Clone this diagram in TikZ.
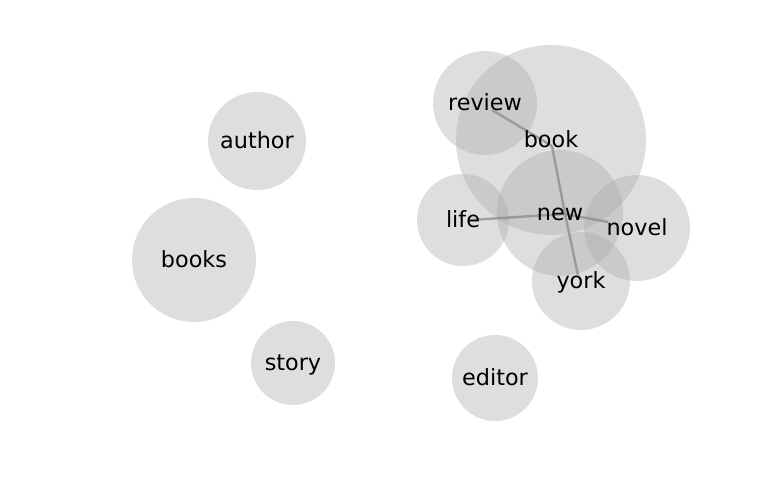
\documentclass[tikz,border=0pt]{standalone}
\usepackage{fontspec}
\setmainfont{DejaVu Sans}
\usetikzlibrary{positioning}
\definecolor{bubblegray}{HTML}{AAAAAA}
\definecolor{linkgray}{HTML}{888888}

\tikzset{
  bubble/.style={circle,draw=none,fill=bubblegray,fill opacity=0.39,inner sep=0pt},
  word/.style={font=\fontsize{12.7}{15}\selectfont,text=black,inner sep=0pt,text height=0.72em,text depth=0.2em,yshift=-1.7pt},
  link/.style={draw=linkgray,line width=1.4pt,opacity=0.7}
}

\begin{document}
\begin{tikzpicture}[x=0.02cm,y=-0.02cm]
  \useasboundingbox (0,0) rectangle (768,500);
  % circles
  \node[bubble,minimum size=1.96cm] (author-c) at (257,141) {};
  \node[bubble,minimum size=2.48cm] (books-c) at (194,260) {};
  \node[bubble,minimum size=1.68cm] (story-c) at (293,363) {};
  \node[bubble,minimum size=1.72cm] (editor-c) at (495,378) {};
  \node[bubble,minimum size=3.80cm] (book-c) at (551,140) {};
  \node[bubble,minimum size=2.08cm] (review-c) at (485,103) {};
  \node[bubble,minimum size=1.84cm] (life-c) at (463,220) {};
  \node[bubble,minimum size=2.52cm] (new-c) at (560,213) {};
  \node[bubble,minimum size=2.12cm] (novel-c) at (637,228) {};
  \node[bubble,minimum size=1.96cm] (york-c) at (581,281) {};
  % edge ends
  \coordinate (review-e) at (492,110);
  \coordinate (book-e) at (552,146);
  \coordinate (new-e) at (565,214);
  \coordinate (york-e) at (578,275);
  \coordinate (life-e) at (470,220);
  \coordinate (novel-e) at (608,222);
  \draw[link] (review-e) -- (book-e);
  \draw[link] (book-e) -- (new-e);
  \draw[link] (new-e) -- (york-e);
  \draw[link] (life-e) -- (new-e);
  \draw[link] (new-e) -- (novel-e);
  % labels
  \node[word] (author) at (author-c) {author};
  \node[word] (books) at (books-c) {books};
  \node[word] (story) at (story-c) {story};
  \node[word] (editor) at (editor-c) {editor};
  \node[word] (book) at (book-c) {book};
  \node[word] (review) at (review-c) {review};
  \node[word] (life) at (life-c) {life};
  \node[word] (new) at (new-c) {new};
  \node[word] (novel) at (novel-c) {novel};
  \node[word] (york) at (york-c) {york};
\end{tikzpicture}
\end{document}
